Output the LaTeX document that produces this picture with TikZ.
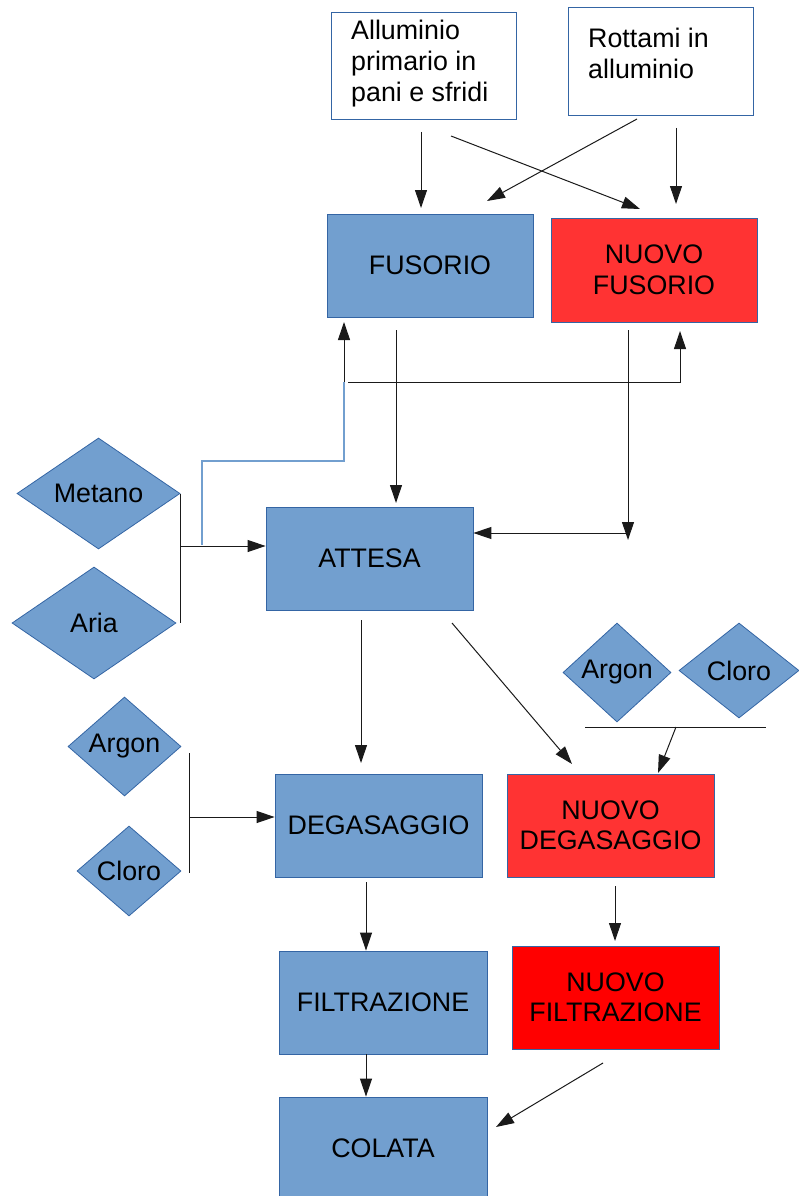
\documentclass[tikz,border=0pt]{standalone}
\usepackage{fontspec}
\setmainfont{Liberation Sans}
\usetikzlibrary{arrows.meta,shapes.geometric,calc}
\definecolor{lblue}{HTML}{729FCF}
\definecolor{dblue}{HTML}{3465A4}
\definecolor{lred}{HTML}{FF3333}
\definecolor{pred}{HTML}{FF0000}
\definecolor{lnc}{HTML}{1A1A1A}
\begin{document}
\begin{tikzpicture}[x=1pt,y=-1pt,
  font=\fontsize{26.8}{30.5}\selectfont,
  srcbox/.style={draw=dblue, line width=0.8pt, fill=white, inner sep=0pt},
  proc/.style={draw=dblue, line width=0.8pt, fill=lblue, minimum width=207pt, minimum height=103pt, inner sep=0pt, align=center},
  newproc/.style={proc, fill=lred},
  newfilt/.style={proc, fill=pred},
  dia/.style={shape=diamond, draw=dblue, fill=lblue, line width=0.8pt, inner sep=0pt},
  txt/.style={inner sep=0pt, align=left, font=\fontsize{26.8}{31}\selectfont},
  arr/.style={draw=lnc, line width=1pt, -{Triangle[length=18pt,width=12pt]}},
  ln/.style={draw=lnc, line width=1pt},
  bln/.style={draw=lblue, line width=1.2pt}]
\useasboundingbox (0,0) rectangle (799,1196);

% source boxes
\node[srcbox, minimum width=185pt, minimum height=107pt] (all) at (423.5,65.5) {};
\node[txt, anchor=north west] (allt) at (351,19.5) {Alluminio\\primario in\\pani e sfridi};
\node[srcbox, minimum width=185pt, minimum height=108pt] (rot) at (660.5,61) {};
\node[txt, anchor=north west] (rott) at (588,27.5) {Rottami in\\alluminio};

% process boxes
\node[proc, minimum width=206pt] (fus) at (430,265.5) {FUSORIO};
\node[newproc, minimum width=206pt, minimum height=104pt] (nfus) at (654,270) {NUOVO\\FUSORIO};
\node[proc] (att) at (369.5,558.5) {ATTESA};
\node[proc] (deg) at (378.5,825.5) {DEGASAGGIO};
\node[newproc] (ndeg) at (610.5,825.5) {NUOVO\\DEGASAGGIO};
\node[proc, minimum width=208pt] (fil) at (383,1002.5) {FILTRAZIONE};
\node[newfilt] (nfil) at (615.5,997.5) {NUOVO\\FILTRAZIONE};
\node[proc, minimum width=208pt] (col) at (383,1148.5) {COLATA};

% diamonds
\node[dia, minimum width=163pt, minimum height=111pt] (met) at (98.5,493.5) {Metano};
\node[dia, minimum width=164pt, minimum height=112pt] (aria) at (94,623) {Aria};
\node[dia, minimum width=113pt, minimum height=99pt] (arl) at (124.5,746.5) {Argon};
\node[dia, minimum width=104pt, minimum height=90pt] (cll) at (129,871) {Cloro};
\node[dia, minimum width=108pt, minimum height=99pt] (arr) at (617,672.5) {Argon};
\node[dia, minimum width=120pt, minimum height=95pt] (clr) at (739,670.5) {Cloro};

% free ends
\coordinate (p1) at (421,132);
\coordinate (p2) at (451,136);
\coordinate (p2e) at (640,209);
\coordinate (p3) at (637,119);
\coordinate (p3e) at (487,201);
\coordinate (p4) at (676,128);
\coordinate (p5) at (396,330);
\coordinate (j1) at (344,382);
\coordinate (j2) at (348,382);
\coordinate (j3) at (680,382);
\coordinate (b1) at (202,545);
\coordinate (b2) at (202,461);
\coordinate (b3) at (344,461);
\coordinate (n1) at (628,330);
\coordinate (n2) at (628,540);
\coordinate (n3) at (628,533);
\coordinate (m1) at (180,494);
\coordinate (m2) at (180,623);
\coordinate (m3) at (180,546);
\coordinate (a1) at (361,620);
\coordinate (a2) at (452,623);
\coordinate (a2e) at (572,764);
\coordinate (g1) at (189,753);
\coordinate (g2) at (189,873);
\coordinate (g3) at (189,817);
\coordinate (r1) at (585,727);
\coordinate (r2) at (766,727);
\coordinate (r3) at (676,727);
\coordinate (r3e) at (658,773);
\coordinate (d1) at (366,882);
\coordinate (e1) at (615,886);
\coordinate (e2) at (615,941);
\coordinate (f1) at (366,1054);
\coordinate (h1) at (603,1063);
\coordinate (h2) at (496,1127);

% connectors top
\draw[arr] (p1) -- (421,208);
\draw[arr] (p2) -- (p2e);
\draw[arr] (p3) -- (p3e);
\draw[arr] (p4) -- (676,204);
% fusorio
\draw[arr] (p5) -- (396,503);
\draw[arr] (j1) -- (344,322);
\draw[bln] (b1) -- (b2) -- (b3) -- (j1);
\draw[arr] (j2) -- (j3) -- (680,331);
\draw[arr] (n1) -- (n2);
\draw[arr] (n3) -- (att.east |- n3);
% metano / aria
\draw[ln] (m1) -- (m2);
\draw[arr] (m3) -- (att.west |- m3);
% attesa
\draw[arr] (a1) -- (361,763);
\draw[arr] (a2) -- (a2e);
% argon / cloro left
\draw[ln] (g1) -- (g2);
\draw[arr] (g3) -- (deg.west |- g3);
% argon / cloro right
\draw[ln] (r1) -- (r2);
\draw[arr] (r3) -- (r3e);
% degasaggio / filtrazione
\draw[arr] (d1) -- (d1 |- fil.north);
\draw[arr] (e1) -- (e2);
\draw[arr] (f1) -- (f1 |- col.north);
\draw[arr] (h1) -- (h2);
\end{tikzpicture}
\end{document}
